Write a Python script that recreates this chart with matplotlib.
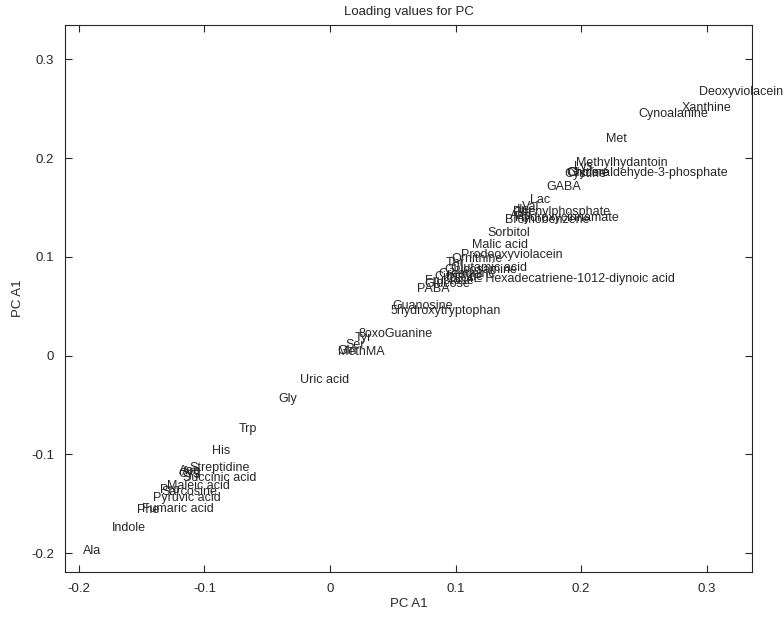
import matplotlib
matplotlib.use("Agg")
import matplotlib.pyplot as plt

# loading values (PC A1 vs PC A1), one entry per metabolite label
names = [
    "Deoxyviolacein", "Xanthine", "Cynoalanine", "Met", "Methylhydantoin",
    "Lys", "Glyceraldehyde-3-phosphate", "Cystine", "Choline", "GABA",
    "Lac", "Val", "Ile", "Phenylphosphate", "Hydroxycinnamate",
    "Glu", "Asp", "Bromobenzene", "Sorbitol", "Malic acid",
    "Prodeoxyviolacein", "Ornithine", "Thr", "Glutamic acid", "Glucosamine",
    "Creatinine", "Citrulline", "2E,4E Hexadecatriene-1012-diynoic acid",
    "Glucose", "Fructose", "PABA", "Guanosine", "5hydroxytryptophan",
    "8oxoGuanine", "Tyr", "Ser", "Gln", "MethMA",
    "Uric acid", "Gly", "Trp", "His", "Streptidine",
    "Asn", "Arg", "Cys", "Succinic acid", "Maleic acid",
    "Pro", "Sarcosine", "Pyruvic acid", "Fumaric acid", "Phe",
    "Indole", "Ala",
]
pc_x = [
    0.294, 0.280, 0.246, 0.220, 0.196,
    0.194, 0.189, 0.187, 0.188, 0.172,
    0.159, 0.153, 0.149, 0.146, 0.147,
    0.145, 0.143, 0.139, 0.125, 0.113,
    0.104, 0.097, 0.092, 0.096, 0.091,
    0.086, 0.083, 0.094,
    0.075, 0.076, 0.069, 0.050, 0.048,
    0.023, 0.020, 0.012, 0.006, 0.006,
    -0.024, -0.041, -0.073, -0.094, -0.112,
    -0.120, -0.118, -0.121, -0.117, -0.130,
    -0.135, -0.134, -0.141, -0.150, -0.154,
    -0.174, -0.197,
]
pc_y = [
    0.267, 0.251, 0.245, 0.219, 0.195,
    0.191, 0.185, 0.184, 0.185, 0.171,
    0.158, 0.151, 0.147, 0.145, 0.139,
    0.144, 0.141, 0.137, 0.124, 0.112,
    0.102, 0.098, 0.094, 0.089, 0.087,
    0.083, 0.080, 0.078,
    0.073, 0.076, 0.067, 0.050, 0.045,
    0.022, 0.018, 0.011, 0.005, 0.004,
    -0.025, -0.044, -0.074, -0.097, -0.114,
    -0.117, -0.118, -0.120, -0.124, -0.132,
    -0.136, -0.138, -0.144, -0.155, -0.156,
    -0.174, -0.198,
]

tick_vals = [-0.2, -0.1, 0, 0.1, 0.2, 0.3]
tick_text = ["-0.2", "-0.1", "0", "0.1", "0.2", "0.3"]

plt.rcParams['font.family'] = ['Liberation Sans', 'DejaVu Sans']

fig = plt.figure(figsize=(7.84, 6.19), dpi=100)
ax = fig.add_axes([0.083, 0.076, 0.876, 0.884])

for name, x, y in zip(names, pc_x, pc_y):
    ax.text(x, y, name, ha='left', va='center', fontsize=9, color='#262626')

ax.set_xlim(-0.211, 0.336)
ax.set_ylim(-0.219, 0.335)
ax.set_xticks(tick_vals)
ax.set_xticklabels(tick_text)
ax.set_yticks(tick_vals)
ax.set_yticklabels(tick_text)
ax.tick_params(direction='in', length=5, top=True, right=True,
               labelsize=9.5, colors='#262626', pad=8)
for s in ax.spines.values():
    s.set_color('#262626')
    s.set_linewidth(0.8)

ax.set_xlabel("PC A1", fontsize=9.5, color='#262626', labelpad=2)
ax.set_ylabel("PC A1", fontsize=9.5, color='#262626', labelpad=5)
ax.set_title("Loading values for PC", fontsize=9.5, color='#262626', pad=7)

fig.savefig("out.png", dpi=100)
